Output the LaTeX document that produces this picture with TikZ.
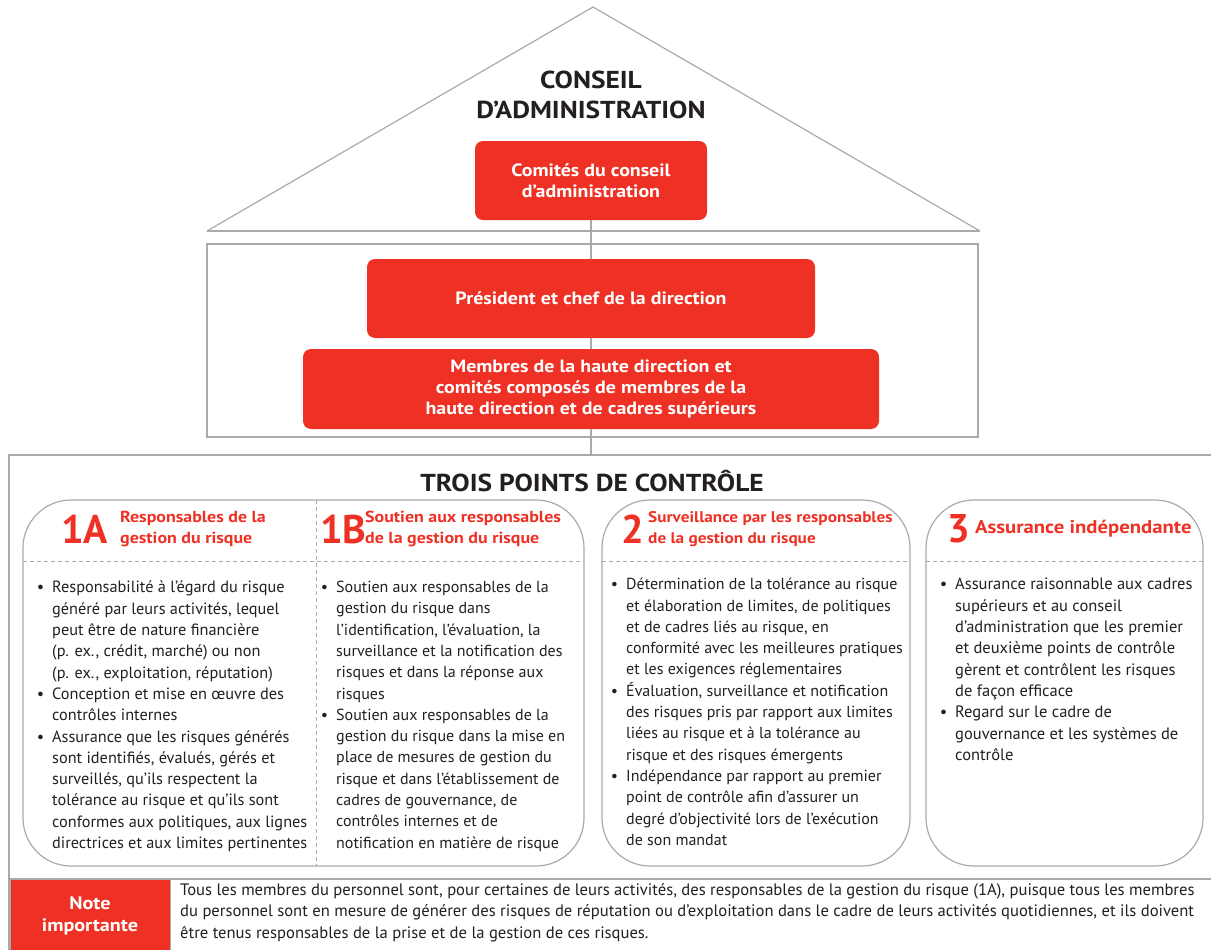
\documentclass[tikz,border=0pt]{standalone}
\usepackage{fontspec}
\setmainfont{PT Sans}[BoldFeatures={FakeStretch=1.12}]
\newfontfamily\numfont{PT Sans}
\definecolor{rd}{RGB}{238,49,36}
\definecolor{ln}{RGB}{170,170,170}
\definecolor{txt}{RGB}{35,31,32}
\newcommand{\bl}{\makebox[0pt][r]{\textbullet\hspace{8pt}}}
\begin{document}
\begin{tikzpicture}[x=1pt,y=-1pt,
  gline/.style={draw=ln, line width=1.2pt},
  redbox/.style={fill=rd, rounded corners=8pt, text=white, font=\bfseries\fontsize{17.8}{21}\selectfont, align=center, inner sep=0pt},
  panel/.style={draw=ln, line width=1.2pt, rounded corners=48pt},
  dsh/.style={draw=ln, line width=1pt, dash pattern=on 4pt off 3pt},
  bigno/.style={text=rd, font=\numfont\bfseries\fontsize{40}{40}\selectfont, inner sep=0pt, anchor=west},
  hdr/.style={text=rd, font=\bfseries\fontsize{16}{21}\selectfont, align=left, inner sep=0pt, anchor=west},
  btxt/.style={text=txt, font=\fontsize{16.3}{21.3}\selectfont, align=left, inner sep=0pt, anchor=north west},
  ttl/.style={text=txt, font=\bfseries\fontsize{24.5}{30}\selectfont, align=center, inner sep=0pt},
]
\useasboundingbox (0,0) rectangle (1211,950);
% house
\draw[gline] (207,231) -- (593,7) -- (980,231);
\draw[draw=ln, line width=2pt] (207,231) -- (980,231);
\draw[gline] (207,244) rectangle (978,437);
\node[ttl] (conseil) at (591,95) {CONSEIL\\D’ADMINISTRATION};
\coordinate (ftop) at (591,455);
\node[redbox, minimum width=232pt, minimum height=79pt] (comites) at (591,180.5) {Comités du conseil\\d’administration};
\node[redbox, minimum width=448pt, minimum height=79pt] (pres) at (591,298.5) {Président et chef de la direction};
\node[redbox, minimum width=576pt, minimum height=80pt] (memb) at (591,389) {Membres de la haute direction et\\comités composés de membres de la\\haute direction et de cadres supérieurs};
\draw[gline] (comites.south) -- (pres.north);
\draw[gline] (pres.south) -- (memb.north);
\draw[gline] (memb.south) -- (ftop);
% outer frame
\draw[gline] (9,955) -- (9,455) -- (1215,455);
\draw[gline] (9,879) -- (1215,879);
\node[ttl] (trois) at (592,481) {TROIS POINTS DE CONTRÔLE};
% panels
\draw[panel] (23,500) rectangle (584,866);
\draw[panel] (602,500) rectangle (910,866);
\draw[panel] (926,500) rectangle (1203,866);
\draw[dsh] (23,561) -- (584,561);
\draw[dsh] (602,561) -- (910,561);
\draw[dsh] (926,561) -- (1203,561);
\draw[dsh] (316,500) -- (316,866);
% headers
\node[bigno] (n1a) at (61,529) {1A};
\node[hdr] (h1a) at (120,529) {Responsables de la\\gestion du risque};
\node[bigno] (n1b) at (320,529) {1B};
\node[hdr] (h1b) at (365,529) {Soutien aux responsables\\de la gestion du risque};
\node[bigno] (n2) at (621,529) {2};
\node[hdr, font=\bfseries\fontsize{15.4}{21}\selectfont] (h2) at (648,529) {Surveillance par les responsables\\de la gestion du risque};
\node[bigno] (n3) at (947,529) {3};
\node[hdr, font=\bfseries\fontsize{18.5}{21}\selectfont] (h3) at (975,529) {Assurance indépendante};
% bullet texts
\node[btxt] (b1a) at (52,581) {\bl Responsabilité à l’égard du risque\\
généré par leurs activités, lequel\\
peut être de nature financière\\
(p. ex., crédit, marché) ou non\\
(p. ex., exploitation, réputation)\\
\bl Conception et mise en œuvre des\\
contrôles internes\\
\bl Assurance que les risques générés\\
sont identifiés, évalués, gérés et\\
surveillés, qu’ils respectent la\\
tolérance au risque et qu’ils sont\\
conformes aux politiques, aux lignes\\
directrices et aux limites pertinentes};
\node[btxt, font=\fontsize{16}{21.3}\selectfont] (b1b) at (336,581) {\bl Soutien aux responsables de la\\
gestion du risque dans\\
l’identification, l’évaluation, la\\
surveillance et la notification des\\
risques et dans la réponse aux\\
risques\\
\bl Soutien aux responsables de la\\
gestion du risque dans la mise en\\
place de mesures de gestion du\\
risque et dans l’établissement de\\
cadres de gouvernance, de\\
contrôles internes et de\\
notification en matière de risque};
\node[btxt, font=\fontsize{16}{21.3}\selectfont] (b2) at (626,578) {\bl Détermination de la tolérance au risque\\
et élaboration de limites, de politiques\\
et de cadres liés au risque, en\\
conformité avec les meilleures pratiques\\
et les exigences réglementaires\\
\bl Évaluation, surveillance et notification\\
des risques pris par rapport aux limites\\
liées au risque et à la tolérance au\\
risque et des risques émergents\\
\bl Indépendance par rapport au premier\\
point de contrôle afin d’assurer un\\
degré d’objectivité lors de l’exécution\\
de son mandat};
\node[btxt, font=\fontsize{16.5}{21.3}\selectfont] (b3) at (955,578) {\bl Assurance raisonnable aux cadres\\
supérieurs et au conseil\\
d’administration que les premier\\
et deuxième points de contrôle\\
gèrent et contrôlent les risques\\
de façon efficace\\
\bl Regard sur le cadre de\\
gouvernance et les systèmes de\\
contrôle};
% note
\node[fill=rd, draw=ln, line width=0.8pt, minimum width=160pt, minimum height=72pt, inner sep=0pt, text=white, font=\bfseries\fontsize{18}{22}\selectfont, align=center] (note) at (90,915.5) {Note\\importante};
\node[btxt, font=\fontsize{16.6}{21.5}\selectfont] (notetxt) at (180,883) {Tous les membres du personnel sont, pour certaines de leurs activités, des responsables de la gestion du risque (1A), puisque tous les membres\\
du personnel sont en mesure de générer des risques de réputation ou d’exploitation dans le cadre de leurs activités quotidiennes, et ils doivent\\
être tenus responsables de la prise et de la gestion de ces risques.};
\end{tikzpicture}
\end{document}
